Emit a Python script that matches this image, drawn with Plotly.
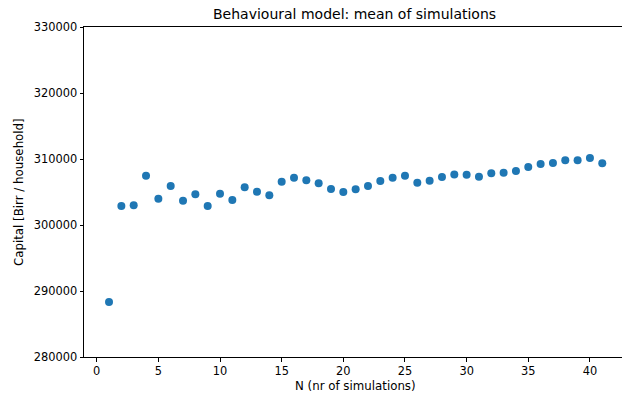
import plotly.graph_objects as go

n_sims = list(range(1, 42))
capital = [288330, 302880, 302985, 307470, 303985, 305910, 303690, 304650, 302880, 304750,
           303790, 305710, 305050, 304500, 306540, 307170, 306770, 306310, 305455, 305000,
           305400, 305910, 306670, 307170, 307470, 306410, 306720, 307270, 307650, 307620,
           307320, 307830, 307930, 308180, 308790, 309240, 309390, 309800, 309800, 310150,
           309340]
y_ticks = [280000, 290000, 300000, 310000, 320000, 330000]
x_ticks = [0, 5, 10, 15, 20, 25, 30, 35, 40]

FONT = "DejaVu Sans"

fig = go.Figure(go.Scatter(
    x=n_sims, y=capital, mode="markers",
    marker=dict(color="#1f77b4", size=8, line=dict(width=0)),
))

axis_common = dict(
    showgrid=False, zeroline=False, showline=True, linecolor="black", linewidth=1,
    ticks="outside", ticklen=3.5, tickwidth=0.8, tickcolor="black",
    tickfont=dict(family=FONT, size=11.4, color="black"),
)

fig.update_layout(
    width=622, height=394,
    margin=dict(l=84, r=0, t=27, b=37),
    paper_bgcolor="white", plot_bgcolor="white",
    showlegend=False,
    xaxis=dict(range=[-1.03, 42.6], tickvals=x_ticks, mirror=True, **axis_common),
    yaxis=dict(range=[280000, 330000], tickvals=y_ticks, tickformat="d", **axis_common),
    annotations=[
        dict(text="Behavioural model: mean of simulations", x=(354 - 84) / 538, xref="paper",
             xanchor="center", y=1, yref="paper", yshift=13, yanchor="middle", showarrow=False,
             font=dict(family=FONT, size=14, color="black")),
        dict(text="N (nr of simulations)", x=(355 - 84) / 538, xref="paper", xanchor="center",
             y=0, yref="paper", yshift=-29, yanchor="middle", showarrow=False,
             font=dict(family=FONT, size=11.8, color="black")),
        dict(text="Capital [Birr / household]", x=0, xref="paper", xshift=-65,
             y=0.5, yref="paper", textangle=-90, xanchor="center", yanchor="middle",
             showarrow=False, font=dict(family=FONT, size=11.8, color="black")),
    ],
)

fig.write_html("out.html")
